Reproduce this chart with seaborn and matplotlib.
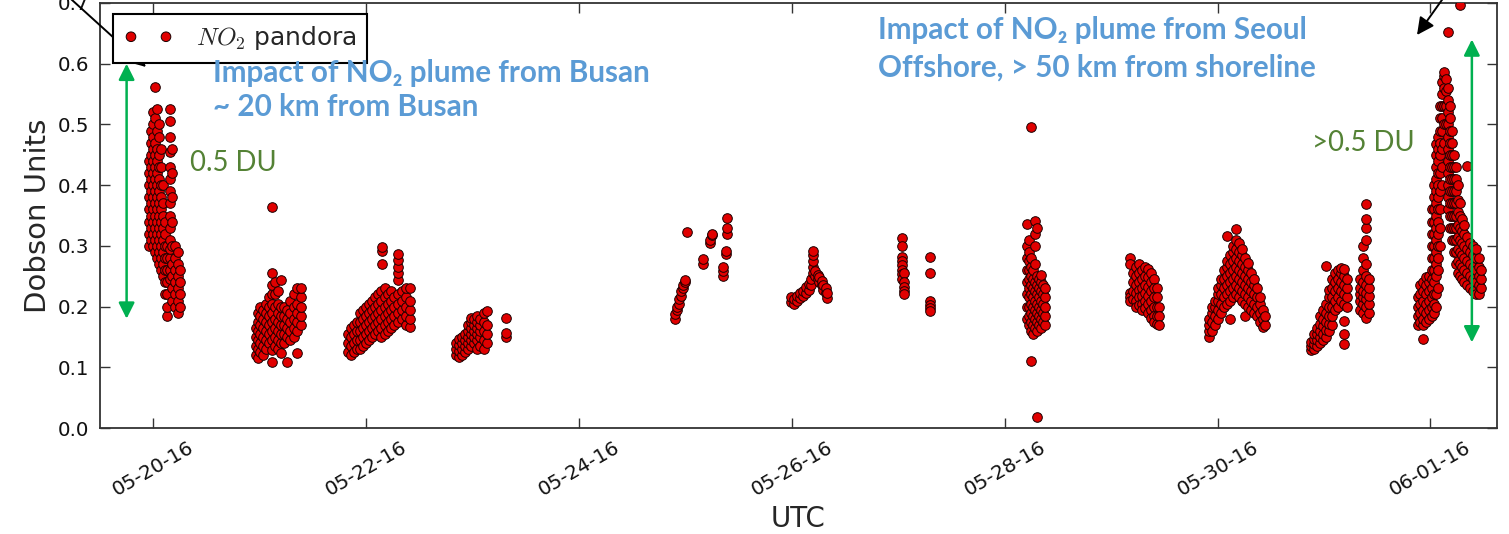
import numpy as np
import pandas as pd
import matplotlib
matplotlib.use("Agg")
import matplotlib.pyplot as plt
import matplotlib.dates as mdates
import seaborn as sns

# ---------------- data (hours since 2016-05-20 00:00 UTC, NO2 in DU) ----------------
hours_0520 = [-0.9, -0.45, 0.0, 0.45, 0.9, 1.35, 1.8, 2.25, 2.7, 3.15, 3.85, 4.3, 4.95, 5.6, 6.1]
values_0520 = [
    [0.30, 0.32, 0.34, 0.36, 0.38, 0.40, 0.42, 0.44],
    [0.31, 0.33, 0.35, 0.37, 0.39, 0.41, 0.43, 0.45, 0.47, 0.49],
    [0.30, 0.32, 0.34, 0.36, 0.38, 0.40, 0.42, 0.44, 0.46, 0.48, 0.50, 0.52],
    [0.29, 0.31, 0.33, 0.35, 0.37, 0.39, 0.41, 0.43, 0.45, 0.47, 0.51, 0.562],
    [0.28, 0.30, 0.32, 0.34, 0.36, 0.38, 0.40, 0.42, 0.44, 0.46, 0.49, 0.525],
    [0.27, 0.29, 0.31, 0.33, 0.35, 0.37, 0.39, 0.41, 0.43, 0.45, 0.48, 0.50],
    [0.26, 0.28, 0.30, 0.32, 0.34, 0.36, 0.38, 0.40, 0.43, 0.46],
    [0.25, 0.27, 0.29, 0.31, 0.33, 0.35, 0.37, 0.40],
    [0.22, 0.24, 0.26, 0.28, 0.30, 0.32, 0.34],
    [0.185, 0.20, 0.22, 0.24, 0.26, 0.28, 0.30],
    [0.245, 0.26, 0.28, 0.295, 0.31, 0.33, 0.35, 0.37, 0.39, 0.41, 0.43, 0.455, 0.48, 0.505, 0.525],
    [0.21, 0.23, 0.25, 0.27, 0.30, 0.34, 0.38, 0.42, 0.46],
    [0.20, 0.22, 0.24, 0.26, 0.28, 0.30],
    [0.19, 0.21, 0.23, 0.25, 0.27, 0.29],
    [0.20, 0.22, 0.24, 0.26],
]

hours_0521 = [23.2, 23.7, 24.1, 24.8, 25.5, 26.1, 26.8, 27.5, 28.2, 28.9, 29.5, 30.2, 30.9, 31.8, 32.5, 33.4]
values_0521 = [
    [0.12, 0.135, 0.15, 0.165],
    [0.115, 0.13, 0.145, 0.16, 0.175, 0.19],
    [0.125, 0.14, 0.155, 0.17, 0.185, 0.20],
    [0.12, 0.135, 0.15, 0.165, 0.18, 0.195],
    [0.13, 0.145, 0.16, 0.175, 0.19, 0.205],
    [0.14, 0.155, 0.17, 0.185, 0.20, 0.215],
    [0.108, 0.128, 0.145, 0.16, 0.175, 0.19, 0.205, 0.22, 0.235, 0.256, 0.364],
    [0.135, 0.15, 0.165, 0.18, 0.20, 0.22, 0.24],
    [0.13, 0.145, 0.16, 0.175, 0.19, 0.205, 0.225],
    [0.123, 0.14, 0.155, 0.17, 0.185, 0.20, 0.243],
    [0.14, 0.155, 0.17, 0.185, 0.20],
    [0.108, 0.15, 0.165, 0.18, 0.195],
    [0.145, 0.16, 0.175, 0.19, 0.21],
    [0.15, 0.165, 0.18, 0.20, 0.22],
    [0.123, 0.16, 0.175, 0.19, 0.205, 0.23],
    [0.17, 0.185, 0.20, 0.215, 0.23],
]

hours_0522 = [43.9, 44.6, 45.3, 46.0, 46.7, 47.3, 48.0, 48.7, 49.4, 50.0, 50.7, 51.4, 51.6,
              52.3, 53.0, 53.6, 54.3, 55.2, 56.1, 57.0, 57.9]
values_0522 = [
    [0.125, 0.14, 0.155],
    [0.12, 0.135, 0.15, 0.165],
    [0.125, 0.14, 0.155, 0.17],
    [0.13, 0.145, 0.16, 0.175],
    [0.13, 0.145, 0.16, 0.175, 0.19],
    [0.135, 0.15, 0.165, 0.18, 0.195],
    [0.14, 0.155, 0.17, 0.185, 0.20],
    [0.145, 0.16, 0.175, 0.19, 0.205],
    [0.15, 0.165, 0.18, 0.195, 0.21],
    [0.155, 0.17, 0.185, 0.20, 0.215],
    [0.16, 0.175, 0.19, 0.205, 0.22],
    [0.15, 0.165, 0.18, 0.195, 0.21, 0.225],
    [0.27, 0.292, 0.298],
    [0.155, 0.17, 0.185, 0.20, 0.215, 0.23],
    [0.16, 0.175, 0.19, 0.205, 0.22],
    [0.165, 0.18, 0.195, 0.21, 0.225],
    [0.17, 0.185, 0.20, 0.215],
    [0.175, 0.19, 0.205, 0.22, 0.243, 0.255, 0.265, 0.277, 0.287],
    [0.18, 0.195, 0.21, 0.225],
    [0.17, 0.185, 0.20, 0.215, 0.23],
    [0.166, 0.18, 0.195, 0.21, 0.23],
]

hours_0523 = [68.3, 69.0, 69.6, 70.3, 71.0, 71.7, 72.4, 73.0, 73.7, 74.6, 75.3, 79.6]
values_0523 = [
    [0.12, 0.13, 0.14],
    [0.117, 0.127, 0.137, 0.147],
    [0.12, 0.13, 0.14, 0.15],
    [0.125, 0.135, 0.145, 0.155],
    [0.13, 0.14, 0.15, 0.16, 0.17],
    [0.135, 0.145, 0.155, 0.165, 0.175, 0.182],
    [0.14, 0.15, 0.16, 0.17, 0.18],
    [0.13, 0.145, 0.155, 0.165, 0.175, 0.185],
    [0.135, 0.15, 0.16, 0.17, 0.18],
    [0.13, 0.145, 0.16, 0.175, 0.19],
    [0.14, 0.155, 0.17, 0.193],
    [0.15, 0.156, 0.182],
]

hours_0525 = [117.7, 118.1, 118.6, 119.0, 119.5, 119.9, 120.4, 124.0, 125.6, 126.0, 128.5, 129.2, 129.4]
values_0525 = [
    [0.18, 0.188], [0.195, 0.20], [0.205, 0.212], [0.218, 0.225], [0.23, 0.235],
    [0.24, 0.243], [0.323], [0.27, 0.278], [0.305, 0.31], [0.318, 0.32],
    [0.251, 0.258, 0.266], [0.287, 0.292], [0.32, 0.33, 0.346],
]

hours_0526 = [143.8, 144.5, 145.2, 145.8, 146.5, 147.2, 147.9, 148.4, 148.8, 149.3,
              149.8, 150.2, 150.7, 151.1, 151.6, 152.0]
values_0526 = [
    [0.208, 0.215], [0.205, 0.212], [0.21, 0.218], [0.214, 0.222], [0.218, 0.226],
    [0.222, 0.232], [0.228, 0.238], [0.235, 0.245], [0.255, 0.265, 0.275, 0.285, 0.292],
    [0.25, 0.258], [0.245, 0.252], [0.24, 0.248], [0.235, 0.242], [0.228, 0.236],
    [0.222, 0.23], [0.214, 0.222],
]

hours_0527 = [168.8, 169.3, 175.1]
values_0527 = [
    [0.313, 0.30, 0.282, 0.275, 0.268, 0.26, 0.253, 0.245],
    [0.255, 0.24, 0.232, 0.225, 0.22],
    [0.282, 0.256, 0.21, 0.203, 0.197, 0.193],
]

hours_0528 = [197.0, 197.4, 197.9, 198.3, 198.8, 199.3, 199.7, 200.2, 200.6, 201.1]
values_0528 = [
    [0.18, 0.20, 0.22, 0.24, 0.26, 0.28, 0.30, 0.336],
    [0.17, 0.185, 0.20, 0.215, 0.23, 0.245, 0.26, 0.275, 0.29, 0.31],
    [0.11, 0.16, 0.175, 0.19, 0.205, 0.22, 0.235, 0.25, 0.265, 0.28, 0.495],
    [0.155, 0.17, 0.185, 0.20, 0.215, 0.23, 0.245, 0.26],
    [0.165, 0.18, 0.195, 0.21, 0.225, 0.24, 0.27, 0.30, 0.32, 0.341],
    [0.018, 0.16, 0.175, 0.19, 0.205, 0.22, 0.235, 0.25, 0.33],
    [0.17, 0.185, 0.20, 0.215, 0.23, 0.245],
    [0.165, 0.18, 0.195, 0.21, 0.225, 0.24, 0.252],
    [0.175, 0.19, 0.205, 0.22, 0.235],
    [0.17, 0.185, 0.20, 0.215, 0.23],
]

hours_0529 = [220.2, 220.9, 221.6, 222.2, 222.9, 223.6, 224.3, 224.9, 225.6, 226.3, 226.7]
values_0529 = [
    [0.28, 0.27, 0.222, 0.215, 0.21],
    [0.255, 0.24, 0.225, 0.212],
    [0.265, 0.25, 0.235, 0.222, 0.21, 0.20],
    [0.27, 0.255, 0.24, 0.228, 0.215, 0.203],
    [0.26, 0.245, 0.23, 0.218, 0.205, 0.195],
    [0.265, 0.25, 0.235, 0.222, 0.21, 0.198],
    [0.262, 0.248, 0.232, 0.218, 0.205, 0.19],
    [0.255, 0.24, 0.225, 0.21, 0.195, 0.182],
    [0.245, 0.23, 0.215, 0.20, 0.185, 0.175],
    [0.23, 0.215, 0.20, 0.185, 0.172],
    [0.20, 0.185, 0.17],
]

hours_0530 = [238.0, 238.7, 239.4, 240.0, 240.7, 241.4, 242.1, 242.8, 243.4, 244.1,
              244.8, 245.5, 246.1, 246.8, 247.5, 248.2, 248.8, 249.5, 250.2, 250.6]
values_0530 = [
    [0.15, 0.16, 0.17, 0.18],
    [0.16, 0.175, 0.19, 0.20],
    [0.17, 0.185, 0.20, 0.21],
    [0.18, 0.195, 0.21, 0.22, 0.23],
    [0.19, 0.205, 0.22, 0.235, 0.245],
    [0.20, 0.215, 0.23, 0.245, 0.26],
    [0.205, 0.22, 0.235, 0.25, 0.265, 0.275, 0.316],
    [0.18, 0.21, 0.225, 0.24, 0.255, 0.27, 0.285],
    [0.215, 0.23, 0.245, 0.26, 0.275, 0.29, 0.30],
    [0.22, 0.235, 0.25, 0.265, 0.28, 0.295, 0.31, 0.328],
    [0.215, 0.23, 0.245, 0.26, 0.275, 0.29, 0.305],
    [0.21, 0.225, 0.24, 0.255, 0.27, 0.285, 0.295],
    [0.185, 0.205, 0.22, 0.235, 0.25, 0.265, 0.28],
    [0.20, 0.215, 0.23, 0.245, 0.26, 0.272],
    [0.195, 0.21, 0.225, 0.24, 0.255],
    [0.19, 0.205, 0.22, 0.235, 0.245],
    [0.185, 0.20, 0.215, 0.23],
    [0.175, 0.19, 0.205, 0.215],
    [0.166, 0.18, 0.195],
    [0.17, 0.185],
]

hours_0531 = [261.0, 261.7, 262.4, 263.0, 263.7, 264.4, 265.1, 265.7, 266.4, 267.1,
              267.8, 268.5, 269.1, 272.1, 272.7, 273.4, 274.1]
values_0531 = [
    [0.128, 0.135, 0.142],
    [0.13, 0.138, 0.146, 0.155],
    [0.135, 0.145, 0.155, 0.165],
    [0.14, 0.15, 0.16, 0.172, 0.185],
    [0.145, 0.155, 0.168, 0.18, 0.195],
    [0.15, 0.162, 0.175, 0.19, 0.205, 0.267],
    [0.16, 0.172, 0.185, 0.20, 0.215, 0.228],
    [0.17, 0.185, 0.20, 0.215, 0.23, 0.245],
    [0.195, 0.21, 0.225, 0.24, 0.255],
    [0.20, 0.215, 0.23, 0.245, 0.26],
    [0.21, 0.225, 0.24, 0.255, 0.264],
    [0.139, 0.155, 0.177, 0.205, 0.22, 0.235, 0.25, 0.262],
    [0.20, 0.215, 0.23, 0.245],
    [0.195, 0.21, 0.22, 0.23, 0.245],
    [0.19, 0.205, 0.215, 0.225, 0.24, 0.26, 0.28, 0.30],
    [0.182, 0.20, 0.212, 0.222, 0.235, 0.25, 0.27, 0.31, 0.33, 0.345, 0.369],
    [0.19, 0.205, 0.218, 0.23, 0.245],
]

hours_0601 = [285.1, 285.6, 286.3, 286.9, 287.6, 288.3, 288.7, 289.2, 289.6, 290.1, 290.6,
              291.0, 291.4, 291.9, 292.3, 292.8, 293.3, 293.7, 294.2, 294.6, 295.1, 295.5,
              296.2, 296.9, 297.6, 298.2, 298.9, 299.4]
values_0601 = [
    [0.17, 0.185, 0.20, 0.215],
    [0.175, 0.19, 0.205, 0.22, 0.235],
    [0.146, 0.17, 0.18, 0.195, 0.21, 0.225, 0.24],
    [0.175, 0.19, 0.205, 0.22, 0.235, 0.248],
    [0.18, 0.195, 0.21, 0.225, 0.24, 0.25],
    [0.185, 0.20, 0.215, 0.23, 0.245, 0.26, 0.28, 0.30, 0.32, 0.34, 0.36],
    [0.19, 0.205, 0.22, 0.24, 0.26, 0.28, 0.30, 0.32, 0.34, 0.36, 0.38, 0.40],
    [0.20, 0.22, 0.25, 0.27, 0.29, 0.31, 0.33, 0.35, 0.37, 0.39, 0.41, 0.43, 0.45, 0.467],
    [0.23, 0.26, 0.28, 0.30, 0.32, 0.34, 0.36, 0.38, 0.40, 0.42, 0.44, 0.46, 0.48],
    [0.30, 0.33, 0.36, 0.39, 0.42, 0.45, 0.47, 0.49, 0.51, 0.53],
    [0.40, 0.43, 0.46, 0.49, 0.51, 0.53, 0.55, 0.57],
    [0.47, 0.50, 0.53, 0.56, 0.58, 0.587],
    [0.50, 0.53, 0.555, 0.575],
    [0.36, 0.38, 0.40, 0.42, 0.44, 0.46, 0.48, 0.50, 0.52, 0.54, 0.56, 0.652],
    [0.33, 0.35, 0.37, 0.39, 0.41, 0.43, 0.45, 0.47, 0.49, 0.51, 0.53],
    [0.31, 0.33, 0.35, 0.37, 0.39, 0.41, 0.43, 0.45, 0.47, 0.49],
    [0.29, 0.31, 0.33, 0.35, 0.37, 0.39, 0.41, 0.43, 0.45],
    [0.27, 0.29, 0.31, 0.33, 0.35, 0.37, 0.39, 0.41, 0.43],
    [0.255, 0.275, 0.295, 0.315, 0.335, 0.355, 0.375, 0.40],
    [0.25, 0.27, 0.29, 0.31, 0.33, 0.35, 0.37, 0.697],
    [0.245, 0.265, 0.285, 0.305, 0.325, 0.345],
    [0.24, 0.26, 0.28, 0.30, 0.32, 0.335],
    [0.235, 0.255, 0.275, 0.295, 0.315, 0.431],
    [0.23, 0.25, 0.27, 0.29, 0.305],
    [0.225, 0.245, 0.265, 0.285, 0.30],
    [0.22, 0.24, 0.26, 0.28, 0.295],
    [0.221, 0.235, 0.25, 0.265, 0.28],
    [0.23, 0.245, 0.26],
]

tick_dates = ["2016-05-20", "2016-05-22", "2016-05-24", "2016-05-26",
              "2016-05-28", "2016-05-30", "2016-06-01"]
y_ticks = [0.0, 0.1, 0.2, 0.3, 0.4, 0.5, 0.6, 0.7]

# ---------------- build table ----------------
days = [(hours_0520, values_0520), (hours_0521, values_0521), (hours_0522, values_0522),
        (hours_0523, values_0523), (hours_0525, values_0525), (hours_0526, values_0526),
        (hours_0527, values_0527), (hours_0528, values_0528), (hours_0529, values_0529),
        (hours_0530, values_0530), (hours_0531, values_0531), (hours_0601, values_0601)]
rows_h, rows_v = [], []
for hrs, vals in days:
    for h, col in zip(hrs, vals):
        for v in col:
            rows_h.append(h)
            rows_v.append(v)
t0 = pd.Timestamp("2016-05-20 00:00")
df = pd.DataFrame({"time": t0 + pd.to_timedelta(rows_h, unit="h"), "no2": rows_v})

# ---------------- plot ----------------
sns.set_style("white")
plt.rcParams["font.family"] = ["DejaVu Sans"]
plt.rcParams["mathtext.fontset"] = "cm"

W, H = 1509, 534
fig = plt.figure(figsize=(W / 100, H / 100), dpi=100)
ax = fig.add_axes([100 / W, 106 / H, 1397 / W, 425 / H])

sns.scatterplot(data=df, x="time", y="no2", ax=ax, color="#e00000", edgecolor="#1a0000",
                linewidth=0.7, s=48, label=r"$NO_2$ pandora", zorder=3)

ax.set_xlim(pd.Timestamp("2016-05-19 12:00"), pd.Timestamp("2016-06-01 15:00"))
ax.set_ylim(0, 0.7)
ax.set_yticks(y_ticks)
ax.set_yticklabels([f"{v:.1f}" for v in y_ticks])
ax.set_xticks(pd.to_datetime(tick_dates))
ax.xaxis.set_major_formatter(mdates.DateFormatter("%m-%d-%y"))

ax.tick_params(axis="both", direction="in", length=7, width=1, color="#333333",
               top=True, right=True, bottom=True, left=True, labelcolor="#111111")
ax.tick_params(axis="y", labelsize=14.3, pad=8)
ax.tick_params(axis="x", labelsize=14.3, pad=7)
for lab in ax.get_xticklabels():
    lab.set_rotation(30)
    lab.set_ha("center")
for sp in ax.spines.values():
    sp.set_color("#333333")
    sp.set_linewidth(1.3)

ax.set_xlabel("UTC", fontsize=20)
ax.set_ylabel("Dobson Units", fontsize=21)
ax.xaxis.set_label_coords(0.4997, -0.181)
ax.yaxis.set_label_coords(-0.0344, 0.5)

leg = ax.legend(loc="upper left", bbox_to_anchor=(13 / 1397, 1 - 11 / 425), borderaxespad=0,
                scatterpoints=2, scatteryoffsets=[0.5], handlelength=2.0, fontsize=18,
                fancybox=False, framealpha=1, edgecolor="black", borderpad=0.42,
                handletextpad=0.9)
leg.get_frame().set_linewidth(1.5)

def fx(px):
    return px / W

def fy(py):
    return 1 - py / H

blue = "#5B9BD5"
tfont = ["Lato", "DejaVu Sans"]
fig.text(fx(213), fy(73), "Impact of NO\u2082 plume from Busan", color=blue, fontsize=21.3,
         fontweight="bold", family=tfont, ha="left", va="center")
fig.text(fx(213), fy(107), "~ 20 km from Busan", color=blue, fontsize=21.3,
         fontweight="bold", family=tfont, ha="left", va="center")
fig.text(fx(878), fy(30), "Impact of NO\u2082 plume from Seoul", color=blue, fontsize=21.3,
         fontweight="bold", family=tfont, ha="left", va="center")
fig.text(fx(878), fy(68), "Offshore, > 50 km from shoreline", color=blue, fontsize=21.3,
         fontweight="bold", family=tfont, ha="left", va="center")

dgreen = "#548235"
fig.text(fx(190), fy(163), "0.5 DU", color=dgreen, fontsize=19.8, family=tfont,
         ha="left", va="center")
fig.text(fx(1312), fy(143), ">0.5 DU", color=dgreen, fontsize=19.8, family=tfont,
         ha="left", va="center")

green = "#00B050"
garrow = dict(arrowstyle="<|-|>", color=green, lw=1.8, mutation_scale=24, shrinkA=0, shrinkB=0)
ax.annotate("", xy=(pd.Timestamp("2016-05-19 18:00"), 0.60),
            xytext=(pd.Timestamp("2016-05-19 18:00"), 0.18), arrowprops=garrow)
ax.annotate("", xy=(pd.Timestamp("2016-06-01 09:20"), 0.64),
            xytext=(pd.Timestamp("2016-06-01 09:20"), 0.141), arrowprops=garrow)

karrow = dict(arrowstyle="-|>", color="black", lw=1.4, mutation_scale=26, shrinkA=0, shrinkB=0)
ax.annotate("", xy=(146, H - 67), xycoords="figure pixels", xytext=(61, H + 10),
            textcoords="figure pixels", arrowprops=karrow, annotation_clip=False)
ax.annotate("", xy=(1417, H - 35), xycoords="figure pixels", xytext=(1449, H + 10),
            textcoords="figure pixels", arrowprops=karrow, annotation_clip=False)

fig.savefig("out.png", dpi=100)
